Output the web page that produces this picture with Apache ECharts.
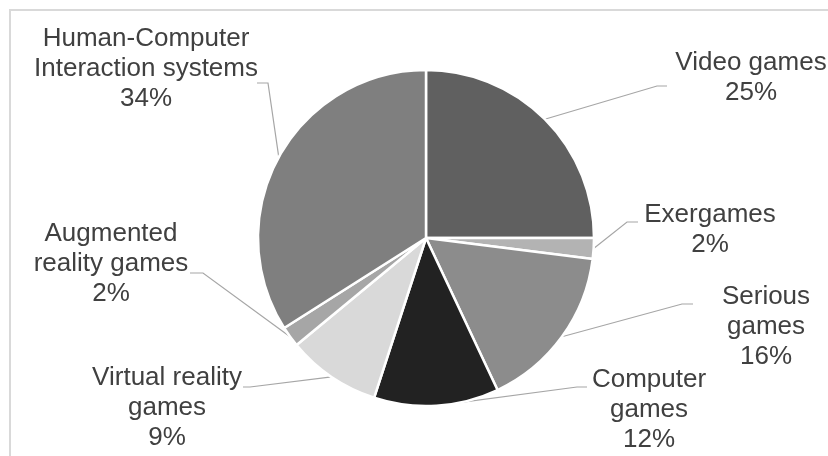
<!DOCTYPE html>
<html>
<head>
<meta charset="utf-8">
<script src="https://cdn.jsdelivr.net/npm/echarts@6/dist/echarts.min.js"></script>
<style>
html,body{margin:0;padding:0;background:#fff;}
#chart{width:828px;height:456px;}
</style>
</head>
<body>
<div id="chart"></div>
<script>
// ---- data ----
const categories = [
  'Video games',
  'Exergames',
  'Serious\ngames',
  'Computer\ngames',
  'Virtual reality\ngames',
  'Augmented\nreality games',
  'Human-Computer\nInteraction systems'
];
const values = [25, 2, 16, 12, 9, 2, 34];

// ---- styling / layout (not data) ----
const sliceColors = ['#606060', '#b3b3b3', '#8c8c8c', '#222222', '#d9d9d9', '#a6a6a6', '#7f7f7f'];
// label block centre [x, y], leader elbow [x, y], leader end [x, y]
const labelLayoutCfg = [
  { c: [751, 78],  elbow: [657, 86],  end: [667, 86] },
  { c: [710, 230], elbow: [627, 222], end: [638, 222] },
  { c: [766, 327], elbow: [682, 304], end: [693, 304] },
  { c: [649, 410], elbow: [577, 387], end: [587, 387] },
  { c: [167, 408], elbow: [250, 387], end: [243, 387] },
  { c: [111, 264], elbow: [203, 273], end: [190, 273] },
  { c: [146, 69],  elbow: [268, 83],  end: [257, 83] }
];

const chart = echarts.init(document.getElementById('chart'), null, { renderer: 'canvas' });

chart.setOption({
  backgroundColor: '#ffffff',
  animation: false,
  graphic: [{
    type: 'rect',
    shape: { x: 10, y: 10, width: 900, height: 600 },
    style: { fill: 'none', stroke: '#d9d9d9', lineWidth: 2 },
    silent: true,
    z: -1
  }],
  series: [{
    type: 'pie',
    center: [426, 238],
    radius: 168,
    startAngle: 90,
    clockwise: true,
    percentPrecision: 0,
    avoidLabelOverlap: false,
    data: categories.map((n, i) => ({
      name: n,
      value: values[i],
      itemStyle: { color: sliceColors[i] }
    })),
    itemStyle: { borderColor: '#ffffff', borderWidth: 2.5 },
    label: {
      show: true,
      position: 'outside',
      formatter: '{b}\n{d}%',
      fontFamily: 'Liberation Sans, Arial, sans-serif',
      fontSize: 26,
      lineHeight: 30,
      color: '#404040',
      align: 'center'
    },
    labelLine: {
      show: true,
      length: 20,
      length2: 10,
      lineStyle: { color: '#a6a6a6', width: 1.2 }
    },
    labelLayout: function (params) {
      const cfg = labelLayoutCfg[params.dataIndex];
      const start = params.labelLinePoints ? params.labelLinePoints[0] : cfg.elbow;
      return {
        x: cfg.c[0],
        y: cfg.c[1],
        align: 'center',
        verticalAlign: 'middle',
        labelLinePoints: [start, cfg.elbow, cfg.end]
      };
    },
    emphasis: { disabled: true }
  }]
});
</script>
</body>
</html>
